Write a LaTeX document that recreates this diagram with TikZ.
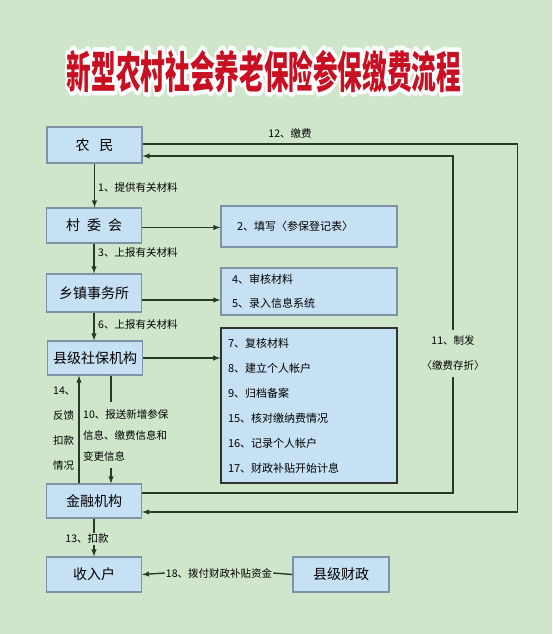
\documentclass[tikz,border=0pt]{standalone}
\usepackage{fontspec}
\newfontfamily\cjk{Noto Sans CJK SC}
\newfontfamily\halo{Noto Sans CJK SC}[UprightFont=* Bold, FakeBold=22]
\newlength{\du}
\setlength{\du}{1pt}
\definecolor{bgcolor}{RGB}{208,230,203}
\definecolor{boxcolor}{RGB}{198,224,244}
\definecolor{boxline}{RGB}{128,146,166}
\definecolor{linkcolor}{RGB}{38,58,38}
\definecolor{titlecolor}{RGB}{200,16,34}
\tikzset{
  unit/.style={draw=boxline, fill=boxcolor, line width=1.2\du, minimum width=95\du, minimum height=35\du, inner sep=0pt, text=black, font=\cjk\fontsize{14}{16}\selectfont},
  notebox/.style={draw=boxline, fill=boxcolor, line width=1.2\du, minimum width=176\du, align=left, inner ysep=0pt, text=black},
  tag/.style={inner sep=1\du, text=black, font=\cjk\fontsize{10.5}{12}\selectfont},
  link/.style={draw=linkcolor, line width=1.4\du},
  arr/.style={link, -latex},
}
\begin{document}
\begin{tikzpicture}[x=\du, y=-\du]
\fill[bgcolor] (0,0) rectangle (552,634);
% title
\node[text=white, line join=round, font=\halo\fontsize{44}{48}\selectfont] (halo) at (264,71) {\special{pdf:literal direct 1 j 1 J}\scalebox{0.56}[1]{新型农村社会养老保险参保缴费流程}};
\node[text=titlecolor, font=\cjk\bfseries\fontsize{44}{48}\selectfont] (title) at (264,71) {\scalebox{0.56}[1]{新型农村社会养老保险参保缴费流程}};
% left column
\node[unit, minimum height=36\du] (farmer) at (94.5,145) {农\hspace{10pt}民};
\node[unit] (village) at (94,225.5) {村\hspace{7pt}委\hspace{7pt}会};
\node[unit, minimum height=38\du] (town) at (94,293) {乡镇事务所};
\node[unit, minimum height=34\du] (county) at (95,358) {县级社保机构};
\node[unit, minimum height=34\du] (bank) at (94,501) {金融机构};
\node[unit] (income) at (94,574.5) {收入户};
\node[unit, minimum width=96\du] (finance) at (341,574.5) {县级财政};
% right column
\node[notebox, minimum height=41\du, inner xsep=16\du, text width=144\du, font=\cjk\fontsize{11}{24}\selectfont] (fill) at (309,226.5) {2、填写〈参保登记表〉};
\node[notebox, minimum height=47\du, inner xsep=11\du, text width=154\du, font=\cjk\fontsize{11}{24}\selectfont] (audit) at (309,291.5) {4、审核材料\\5、录入信息系统};
\node[notebox, draw=black!80, line width=1.6\du, minimum height=155\du, inner xsep=7\du, text width=162\du, font=\cjk\fontsize{11}{25}\selectfont] (record) at (309,405.5) {7、复核材料\\8、建立个人帐户\\9、归档备案\\15、核对缴纳费情况\\16、记录个人帐户\\17、财政补贴开始计息};
% labels
\node[tag, anchor=west] (step1) at (97,188) {1、提供有关材料};
\node[tag, anchor=west] (step3) at (97,253) {3、上报有关材料};
\node[tag, anchor=west] (step6) at (97,325) {6、上报有关材料};
\node[tag] (pay) at (290,134) {12、缴费};
\node[tag, align=center, inner ysep=6\du, font=\cjk\fontsize{10.5}{25}\selectfont] (book) at (453,353.5) {11、制发\\〈缴费存折〉};
\node[tag, anchor=west, align=left, inner ysep=7\du, font=\cjk\fontsize{10.5}{21}\selectfont] (report) at (82,435) {10、报送新增参保\\信息、缴费信息和\\变更信息};
\node[tag, anchor=west, align=left, font=\cjk\fontsize{10.5}{25}\selectfont] (feedback) at (52,429) {14、\\反馈\\扣款\\情况};
\node[tag] (deduct) at (87,539) {13、扣款};
\node[tag] (subsidy) at (219,573) {18、拨付财政补贴资金};
% vertical flow
\draw[arr] (farmer.south) -- (farmer.south |- village.north);
\draw[arr] (village.south) -- (town.north);
\draw[arr] (town.south) -- (town.south |- county.north);
\draw[link] ([xshift=16\du]county.south) -- ([xshift=16\du]county.south |- report.north);
\draw[arr] ([xshift=17\du]bank.north |- report.south) -- ([xshift=17\du]bank.north);
\draw[arr] ([xshift=-15\du]bank.north) -- ([xshift=-15\du]bank.north |- county.south);
\draw[link] (bank.south) -- (bank.south |- deduct.north);
\draw[arr] (income.north |- deduct.south) -- (income.north);
% to the right
\draw[arr] ([yshift=-2\du]village.east) -- ([yshift=-2\du]village.east -| fill.west);
\draw[arr] ([yshift=-7\du]town.east) -- ([yshift=-7\du]town.east -| audit.west);
\draw[arr] (county.east) -- (county.east -| record.west);
% loops
\draw[arr] ([yshift=1\du]farmer.east) -- ++(375,0) |- ([yshift=-11\du]bank.east);
\draw[link] ([yshift=8\du]bank.east) -| (book.south);
\draw[arr] (book.north) |- ([yshift=-11\du]farmer.east);
% subsidy
\draw[link] (finance.west) -- (subsidy.east);
\draw[arr] (subsidy.west) -- (income.east);
\end{tikzpicture}
\end{document}
